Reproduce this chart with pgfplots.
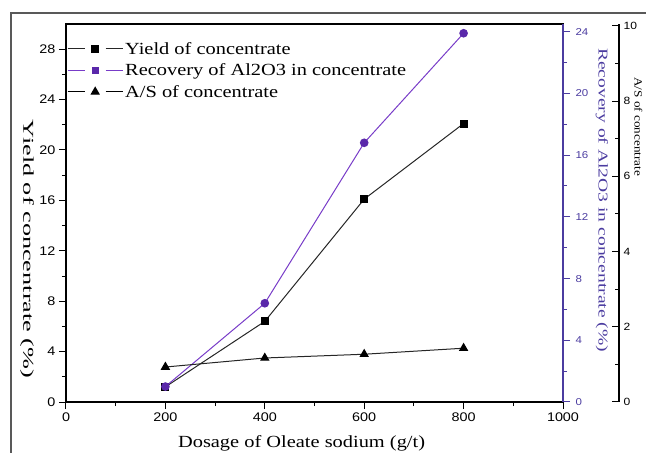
\documentclass[border=0pt]{standalone}
\usepackage{pgfplots}
\pgfplotsset{compat=1.18}
\usepackage{fontspec}
\setmainfont{Liberation Serif}[FakeStretch=1.2]
\newfontfamily\ylabfont{Liberation Serif}[FakeStretch=1.75]
\newfontfamily\rlabfont{Liberation Serif}[FakeStretch=1.45]
\newfontfamily\tickfont{Liberation Sans}[FakeStretch=1.15]
\definecolor{recline}{RGB}{120,60,200}
\definecolor{recmark}{RGB}{90,40,170}
\definecolor{recaxis}{RGB}{75,60,160}
\begin{document}
\begin{tikzpicture}
\pgfplotsset{
  common/.style={scale only axis, height=378pt, at={(0,0)}, anchor=south west,
    /pgf/number format/assume math mode=true,
    /pgf/number format/set thousands separator={},
    major tick length=7pt, minor tick length=4pt,
    every tick/.style={line width=1pt},
  }
}
\begin{axis}[common, width=497pt, xmin=0, xmax=1000, ymin=0, ymax=30,
  xtick={0,200,...,1000}, ytick={0,4,...,28}, minor x tick num=1, minor y tick num=1,
  xtick pos=bottom, ytick pos=left, tick align=outside,
  ticklabel style={font=\tickfont\fontsize{12.5}{14}\selectfont},
  axis line style={line width=1.6pt},
  xlabel={Dosage of Oleate sodium (g/t)},
  ylabel={Yield of concentrate (\%)},
  every axis x label/.style={at={(axis description cs:0.474,0)}, yshift=-41pt, anchor=center, font=\fontsize{17}{20}\selectfont},
  every axis y label/.style={at={(axis description cs:0,0.405)}, xshift=-39pt, anchor=center, rotate=-90, font=\ylabfont\fontsize{15}{18}\selectfont},
  legend style={at={(axis description cs:0,1)}, anchor=north west, xshift=0pt, yshift=-14pt, draw=none, fill=none, inner xsep=1pt,
    font=\fontsize{17}{20}\selectfont, row sep=4pt},
  legend cell align=left,
  legend image code/.code={
    \draw[#1] (0pt,0pt) -- (17pt,0pt);
    \draw[#1] (38pt,0pt) -- (55pt,0pt);
    \draw[#1] plot[only marks] coordinates {(27.5pt,0pt)};
  },
]
\addplot[black!85, line width=1pt, mark=square*, mark size=3.5pt, mark options={black}] coordinates {(200,1.2) (400,6.4) (600,16.1) (800,22.1)};
\addlegendentry{Yield of concentrate}
\addlegendimage{recline, line width=1pt, mark=square*, mark size=3pt, mark options={recmark, fill=recmark}}
\addlegendentry{Recovery of Al2O3 in concentrate}
\addlegendimage{black, line width=1pt, mark=triangle*, mark size=4.5pt}
\addlegendentry{A/S of concentrate}
\end{axis}

\begin{axis}[common, width=497pt, xmin=0, xmax=1000, ymin=0, ymax=24.5,
  axis x line=none, axis y line*=right, ytick={0,4,...,24}, minor y tick num=1,
  tick align=outside,
  y axis line style={recaxis, line width=1.6pt},
  ytick style={recaxis},
  yticklabel style={recaxis, font=\tickfont\fontsize{10}{12}\selectfont, xshift=2pt},
  ylabel={Recovery of Al2O3 in concentrate (\%)},
  every axis y label/.style={at={(axis description cs:1,0.534)}, xshift=39pt, anchor=center, rotate=-90, text=recaxis, font=\rlabfont\fontsize{13.5}{16}\selectfont},
]
\addplot[recline, line width=1pt, mark=*, mark size=3.8pt, mark options={recmark, fill=recmark}] coordinates {(200,1.0) (400,6.4) (600,16.8) (800,23.9)};
\end{axis}

\begin{axis}[common, width=553pt, xmin=0, xmax=1112.7, ymin=0, ymax=10.05,
  axis x line=none, axis y line*=right, ytick={0,2,...,10}, minor y tick num=1,
  tick align=inside,
  y axis line style={black, line width=1.2pt},
  yticklabel style={font=\tickfont\fontsize{10.5}{12}\selectfont, xshift=1pt},
  ylabel={A/S of concentrate},
  every axis y label/.style={at={(axis description cs:1,0.728)}, xshift=19.5pt, anchor=center, rotate=-90, font=\fontsize{11}{13}\selectfont},
]
\addplot[black!85, line width=1pt, mark=triangle*, mark size=4.5pt, mark options={black}] coordinates {(200,0.93) (400,1.17) (600,1.27) (800,1.43)};
\end{axis}

\draw[line width=1.5pt, black!65] (-55pt,-80pt) -- (-55pt,389pt) -- (600pt,389pt);
\pgfresetboundingbox
\useasboundingbox (-66pt,-51pt) rectangle (580pt,402pt);
\end{tikzpicture}
\end{document}
